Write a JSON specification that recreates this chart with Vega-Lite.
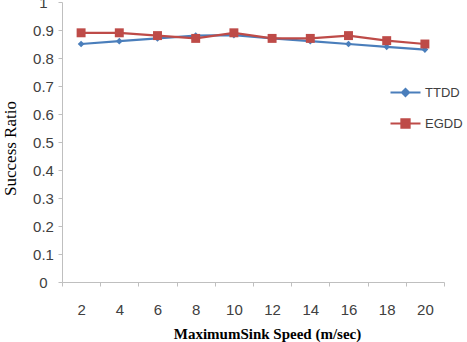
{
  "$schema": "https://vega.github.io/schema/vega-lite/v6.json",
  "width": 382,
  "height": 280,
  "autosize": {"type": "none"},
  "padding": {"left": 62, "top": 2, "right": 23, "bottom": 60},
  "background": "white",
  "config": {
    "view": {"stroke": null},
    "axis": {"grid": false, "domainColor": "#bfbfbf", "tickColor": "#bfbfbf", "domainWidth": 1, "tickWidth": 1}
  },
  "data": {
    "values": [
      {"speed": 2, "series": "TTDD", "ratio": 0.85},
      {"speed": 4, "series": "TTDD", "ratio": 0.86},
      {"speed": 6, "series": "TTDD", "ratio": 0.87},
      {"speed": 8, "series": "TTDD", "ratio": 0.88},
      {"speed": 10, "series": "TTDD", "ratio": 0.882},
      {"speed": 12, "series": "TTDD", "ratio": 0.87},
      {"speed": 14, "series": "TTDD", "ratio": 0.86},
      {"speed": 16, "series": "TTDD", "ratio": 0.85},
      {"speed": 18, "series": "TTDD", "ratio": 0.84},
      {"speed": 20, "series": "TTDD", "ratio": 0.83},
      {"speed": 2, "series": "EGDD", "ratio": 0.89},
      {"speed": 4, "series": "EGDD", "ratio": 0.89},
      {"speed": 6, "series": "EGDD", "ratio": 0.88},
      {"speed": 8, "series": "EGDD", "ratio": 0.87},
      {"speed": 10, "series": "EGDD", "ratio": 0.89},
      {"speed": 12, "series": "EGDD", "ratio": 0.87},
      {"speed": 14, "series": "EGDD", "ratio": 0.87},
      {"speed": 16, "series": "EGDD", "ratio": 0.88},
      {"speed": 18, "series": "EGDD", "ratio": 0.862},
      {"speed": 20, "series": "EGDD", "ratio": 0.85}
    ]
  },
  "encoding": {
    "x": {
      "field": "speed",
      "type": "ordinal",
      "bandPosition": 0.5,
      "scale": {"type": "band", "paddingInner": 0, "paddingOuter": 0},
      "axis": {
        "title": "MaximumSink Speed (m/sec)",
        "labelAngle": 0,
        "tickBand": "extent",
        "tickSize": 4,
        "labelPadding": 16,
        "labelFont": "Liberation Sans",
        "labelFontSize": 15,
        "labelColor": "#404040",
        "titleFont": "Liberation Serif",
        "titleFontWeight": "bold",
        "titleFontSize": 15,
        "titleColor": "#000000",
        "titleX": 205,
        "titleY": 51,
        "titleBaseline": "middle"
      }
    },
    "y": {
      "field": "ratio",
      "type": "quantitative",
      "scale": {"domain": [0, 1]},
      "axis": {
        "title": "Success Ratio",
        "values": [0, 0.1, 0.2, 0.3, 0.4, 0.5, 0.6, 0.7, 0.8, 0.9, 1],
        "format": "~g",
        "labelAlign": "center",
        "labelBaseline": "middle",
        "labelPadding": 15,
        "tickSize": 4,
        "labelFont": "Liberation Sans",
        "labelFontSize": 15,
        "labelColor": "#404040",
        "titleFont": "Liberation Serif",
        "titleFontWeight": "normal",
        "titleFontSize": 17,
        "titleColor": "#000000",
        "titleAngle": -90,
        "titleX": -52,
        "titleY": 146,
        "titleBaseline": "middle"
      }
    },
    "color": {
      "field": "series",
      "type": "nominal",
      "scale": {"domain": ["TTDD", "EGDD"], "range": ["#4a7ebb", "#be4b48"]},
      "legend": {
        "title": null,
        "orient": "none",
        "legendX": 327,
        "legendY": 74,
        "padding": 0,
        "symbolSize": 900,
        "symbolStrokeWidth": 2.2,
        "rowPadding": 6,
        "labelOffset": 3,
        "labelFont": "Liberation Sans",
        "labelFontSize": 13,
        "labelColor": "#404040",
        "encode": {
          "symbols": {
            "update": {
              "shape": {"signal": "datum.value === 'TTDD' ? 'M-1,0H1M0,-0.23L0.23,0L0,0.23L-0.23,0Z' : 'M-1,0H1M-0.27,-0.27H0.27V0.27H-0.27Z'"},
              "fill": {"scale": "color", "field": "value"},
              "stroke": {"scale": "color", "field": "value"},
              "opacity": {"value": 1}
            }
          }
        }
      }
    }
  },
  "layer": [
    {"mark": {"type": "line", "strokeWidth": 2.2}},
    {
      "transform": [{"filter": "datum.series === 'TTDD'"}],
      "mark": {"type": "point", "shape": "diamond", "filled": true, "opacity": 1, "size": 45}
    },
    {
      "transform": [{"filter": "datum.series === 'EGDD'"}],
      "mark": {"type": "point", "shape": "square", "filled": true, "opacity": 1, "size": 80}
    }
  ]
}
